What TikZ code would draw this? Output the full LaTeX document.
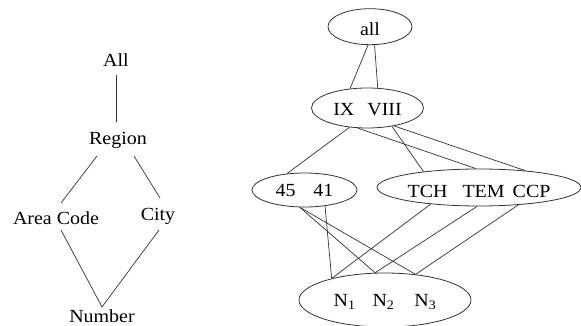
\documentclass[tikz,border=0pt]{standalone}
\usepackage{fontspec}
\setmainfont{Liberation Serif}[FakeStretch=1.08]
\usetikzlibrary{shapes.geometric,calc}
\begin{document}
\begin{tikzpicture}[x=1pt,y=-1pt,
  font=\fontsize{18.5}{22}\selectfont,
  lbl/.style={anchor=base, inner sep=0pt},
  ell/.style={ellipse, draw=black!80, line width=0.8pt, inner sep=0pt, text depth=0pt},
  conn/.style={line width=0.7pt, draw=black!80}]
\useasboundingbox (0,0) rectangle (581,326);
% left hierarchy
\node[lbl] (all) at (116,67) {All};
\node[lbl] (region) at (118,145) {Region};
\node[lbl] (area) at (56,224) {Area Code};
\node[lbl] (city) at (158,220) {City};
\node[lbl] (number) at (102,322.5) {Number};
\draw[conn] ($(all.base)+(0,8)$) -- ($(region.base)+(-2,-23)$);
\draw[conn] ($(region.base)+(-21,11)$) -- ($(area.base)+(5,-21)$);
\draw[conn] ($(region.base)+(16,11)$) -- ($(city.base)+(2,-22)$);
\draw[conn] ($(area.base)+(5,6)$) -- ($(number.base)+(0,-15.5)$);
\draw[conn] ($(city.base)+(1,10)$) -- ($(number.base)+(0,-15.5)$);
% right lattice
\node[ell, minimum width=84pt, minimum height=36pt, text height=18.6pt] (eall) at (370,26.7) {all};
\node[ell, minimum width=112pt, minimum height=40pt, text height=16pt] (eix) at (367.5,108) {IX\hspace{13pt}VIII};
\node[ell, minimum width=105pt, minimum height=34pt, text height=13.4pt] (e45) at (304.5,190) {45\hspace{18pt}41};
\node[ell, minimum width=204pt, minimum height=37pt, text height=19.6pt] (etch) at (479,187.5) {TCH\hspace{15pt}TEM\hspace{8pt}CCP};
\node[ell, minimum width=172pt, minimum height=54pt, text height=13.4pt] (en) at (385,300) {N\textsubscript{1}\hspace{17pt}N\textsubscript{2}\hspace{20pt}N\textsubscript{3}};
\draw[conn] (eall.264) -- (eix.132.6);
\draw[conn] (eall.284) -- (eix.63);
\draw[conn] (eix.227.4) -- (e45.137.6);
\draw[conn] (eix.244) -- (etch.99);
\draw[conn] (eix.323.7) -- (etch.164.5);
\draw[conn] (eix.326.4) -- (etch.20.8);
\draw[conn] (e45.255) -- (en.110.5);
\draw[conn] (e45.255) -- (en.40.1);
\draw[conn] (e45.322.6) -- (en.158.1);
\draw[conn] (etch.199.7) -- (en.158.1);
\draw[conn] (etch.264) -- (en.110.5);
\draw[conn] (etch.336.3) -- (en.40.1);
\end{tikzpicture}
\end{document}
